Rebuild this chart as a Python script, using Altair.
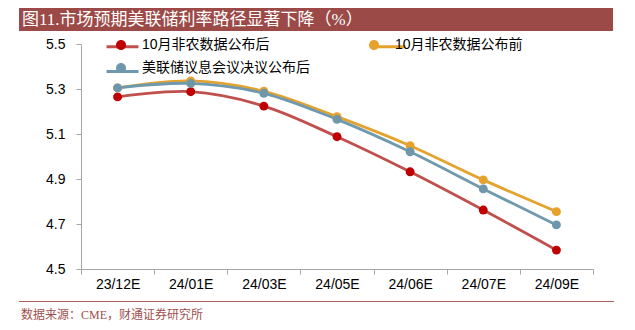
import altair as alt
import pandas as pd

categories = ["23/12E", "24/01E", "24/03E", "24/05E", "24/06E", "24/07E", "24/09E"]
series_names = ["10月非农数据公布后", "10月非农数据公布前", "美联储议息会议决议公布后"]
after_nfp = [5.265, 5.288, 5.224, 5.088, 4.932, 4.762, 4.584]
before_nfp = [5.305, 5.336, 5.290, 5.177, 5.048, 4.896, 4.755]
after_fomc = [5.305, 5.325, 5.281, 5.165, 5.021, 4.856, 4.696]
y_ticks = [4.5, 4.7, 4.9, 5.1, 5.3, 5.5]

line_colors = ["#C0504D", "#E3A32E", "#6F99AE"]
marker_colors = ["#C00000", "#E6A22C", "#6E97AC"]

title_text = "图11.市场预期美联储利率路径显著下降（%）"
source_text = "数据来源：CME，财通证券研究所"

rows = []
for name, vals in zip(series_names, [after_nfp, before_nfp, after_fomc]):
    for c, v in zip(categories, vals):
        rows.append({"cat": c, "value": v, "series": name})
df = pd.DataFrame(rows)

W, H = 512, 225
L, T = 81, 44

x_enc = alt.X("cat:N", sort=categories,
              scale=alt.Scale(paddingInner=0, paddingOuter=0),
              axis=alt.Axis(title=None, labelAngle=0, tickBand="extent",
                            labelFont="Liberation Sans", labelFontSize=14,
                            labelColor="#000000", labelPadding=3,
                            domainColor="#A6A6A6", tickColor="#A6A6A6",
                            tickSize=5, grid=False))
y_enc = alt.Y("value:Q", scale=alt.Scale(domain=[4.5, 5.5], nice=False, zero=False),
              axis=alt.Axis(title=None, values=y_ticks, format=".1f",
                            labelFont="Liberation Sans", labelFontSize=14,
                            labelColor="#000000", labelPadding=11,
                            domainColor="#A6A6A6", tickColor="#A6A6A6",
                            tickSize=5, grid=False))

legend_common = dict(orient="none", direction="horizontal", legendX=30, legendY=-9,
                     columns=2, columnPadding=54, rowPadding=6, title=None,
                     labelFont="Liberation Sans, Noto Sans CJK SC",
                     labelFontSize=14, labelColor="#000000", labelOffset=11,
                     labelLimit=400, symbolSize=400, padding=0)

lines = alt.Chart(df).mark_line(interpolate="cardinal", strokeWidth=2.8).encode(
    x=x_enc, y=y_enc,
    stroke=alt.Stroke("series:N", scale=alt.Scale(domain=series_names, range=line_colors),
                      legend=alt.Legend(symbolType="M-1.6,0L1.6,0", symbolStrokeWidth=3,
                                        labelOpacity=0, **legend_common)),
    order=alt.Order("cat:N"),
)

points = alt.Chart(df).mark_point(filled=True, size=80, opacity=1).encode(
    x=x_enc, y=y_enc,
    fill=alt.Fill("series:N", scale=alt.Scale(domain=series_names, range=marker_colors),
                  legend=alt.Legend(symbolType="M0.5,0A0.5,0.5,0,1,1,-0.5,0A0.5,0.5,0,1,1,0.5,0Z",
                                    symbolStrokeWidth=0, symbolOpacity=1, **legend_common)),
)

one = alt.Data(values=[{"k": 1}])

title_bar = alt.Chart(one).mark_rect(color="#9B4A47").encode(
    x=alt.value(19 - L), x2=alt.value(613 - L),
    y=alt.value(8 - T), y2=alt.value(31 - T))

title = alt.Chart(one).mark_text(align="left", baseline="middle", color="#FFFFFF",
                                 font="Liberation Serif, Noto Sans CJK SC", fontSize=17).encode(
    x=alt.value(22 - L), y=alt.value(20 - T), text=alt.value(title_text))

bottom_rule = alt.Chart(one).mark_rule(color="#B0625E", strokeWidth=1).encode(
    x=alt.value(19 - L), x2=alt.value(614 - L), y=alt.value(301.5 - T))

source = alt.Chart(one).mark_text(align="left", baseline="middle", color="#A0504D",
                                  font="Liberation Serif, Noto Sans CJK SC", fontSize=12).encode(
    x=alt.value(21 - L), y=alt.value(315 - T), text=alt.value(source_text))

chart = alt.layer(title_bar, title, bottom_rule, source, lines, points).resolve_scale(
    stroke="independent", fill="independent"
).properties(
    width=W, height=H,
    padding={"left": L, "top": T, "right": 635 - L - W, "bottom": 330 - T - H},
    autosize=alt.AutoSizeParams(type="none"),
    background="#FFFFFF",
).configure_view(stroke=None)

chart.save("out.html", embed_options={"renderer": "svg", "actions": False})
